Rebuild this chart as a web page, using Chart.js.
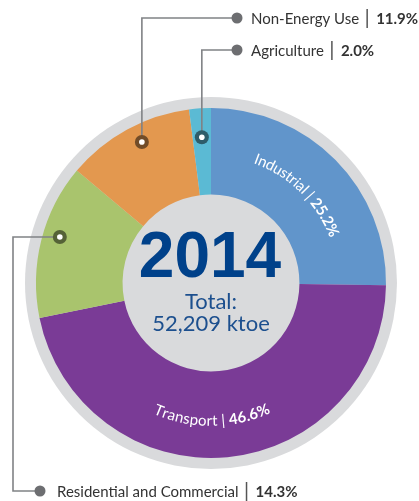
<!DOCTYPE html>
<html>
<head>
<meta charset="utf-8">
<script src="https://cdn.jsdelivr.net/npm/chart.js@4.4.1/dist/chart.umd.min.js"></script>
<style>
  html, body { margin: 0; padding: 0; background: #fff; }
  #wrap { position: relative; width: 419px; height: 501px; }
</style>
</head>
<body>
<div id="wrap"><canvas id="energy"></canvas></div>
<script>
// final energy consumption by sector, 2014
const sectors = ['Industrial', 'Transport', 'Residential and Commercial', 'Non-Energy Use', 'Agriculture'];
const shares = [25.2, 46.6, 14.3, 11.9, 2.0];
const sectorColours = ['#6195cb', '#7a3b96', '#a9c46d', '#e3984f', '#5bbad4'];
const year = '2014';
const totalKtoe = '52,209';

const FONT = 'Lato, "Open Sans", sans-serif';
const RING_GREY = '#d9dadc';
const LINE_GREY = '#808285';

function pct(i) {
    return shares[i].toFixed(1) + '%';
}

// darker shade of a hex colour, used for the callout markers
function shade(hex, f) {
    const n = parseInt(hex.slice(1), 16);
    const r = Math.round(((n >> 16) & 255) * f);
    const g = Math.round(((n >> 8) & 255) * f);
    const b = Math.round((n & 255) * f);
    return `rgb(${r},${g},${b})`;
}

// angle measured clockwise from 12 o'clock (Chart.js uses 3 o'clock)
function midAngle(arc) {
    return (arc.startAngle + arc.endAngle) / 2 + Math.PI / 2;
}

// write text along a circle; inward = letters facing the centre (bottom of ring)
function arcText(ctx, parts, cx, cy, r, mid, inward) {
    const chars = [];
    parts.forEach(p => {
        ctx.font = p.font;
        for (const ch of p.text) chars.push({ ch, font: p.font, w: ctx.measureText(ch).width });
    });
    const total = chars.reduce((s, c) => s + c.w, 0);
    const dir = inward ? -1 : 1;
    let a = mid - dir * total / 2 / r;
    ctx.textAlign = 'center';
    ctx.textBaseline = 'middle';
    chars.forEach(c => {
        const ca = a + dir * c.w / 2 / r;
        ctx.save();
        ctx.translate(cx + r * Math.sin(ca), cy - r * Math.cos(ca));
        ctx.rotate(inward ? ca - Math.PI : ca);
        ctx.font = c.font;
        ctx.fillText(c.ch, 0, 0);
        ctx.restore();
        a += dir * c.w / r;
    });
}

// labels written inside the ring
const ringLabels = [
    { index: 0, radius: 132, inward: false, nudge: -1 },
    { index: 1, radius: 138, inward: true, nudge: 5 }
];

// labels pulled out with elbow lines
const callouts = [
    { index: 3, radius: 157, nudge: 2.5, route: 'up', labelY: 18, dotX: 237, textX: 251 },
    { index: 4, radius: 146, nudge: 0, route: 'up', labelY: 50, dotX: 237, textX: 251 },
    { index: 2, radius: 158, nudge: 2.7, route: 'left', railX: 13, labelY: 491, dotX: 40, textX: 57 }
];

const ringPlugin = {
    id: 'ringDecor',
    beforeDatasetsDraw(chart) {
        const arc = chart.getDatasetMeta(0).data[0];
        const ctx = chart.ctx;
        ctx.save();
        ctx.fillStyle = RING_GREY;
        ctx.beginPath();
        ctx.arc(arc.x, arc.y, arc.outerRadius + 11, 0, Math.PI * 2);
        ctx.fill();
        ctx.restore();
    },
    afterDatasetsDraw(chart) {
        const ctx = chart.ctx;
        const arcs = chart.getDatasetMeta(0).data;
        const cx = arcs[0].x, cy = arcs[0].y;

        // centre text
        ctx.save();
        ctx.textAlign = 'center';
        ctx.textBaseline = 'alphabetic';
        ctx.fillStyle = '#00418a';
        ctx.font = 'bold 64px "Liberation Sans", Arial, sans-serif';
        ctx.fillText(year, cx - 1, cy - 6);
        ctx.fillStyle = '#1c4f8e';
        ctx.font = '22px ' + FONT;
        ctx.fillText('Total:', cx, cy + 26);
        ctx.fillText(totalKtoe + ' ktoe', cx, cy + 48);
        ctx.restore();

        // in-ring labels
        ctx.save();
        ctx.fillStyle = '#ffffff';
        ringLabels.forEach(l => {
            const a = midAngle(arcs[l.index]) + l.nudge * Math.PI / 180;
            arcText(ctx, [
                { text: sectors[l.index] + ' ', font: '15px ' + FONT },
                { text: '| ', font: '15px ' + FONT },
                { text: pct(l.index), font: 'bold 15px ' + FONT }
            ], cx, cy, l.radius, a, l.inward);
        });
        ctx.restore();

        // callouts
        callouts.forEach(c => {
            const a = midAngle(arcs[c.index]) + c.nudge * Math.PI / 180;
            const mx = cx + c.radius * Math.sin(a);
            const my = cy - c.radius * Math.cos(a);

            ctx.save();
            ctx.strokeStyle = LINE_GREY;
            ctx.lineWidth = 1.6;
            ctx.beginPath();
            ctx.moveTo(mx, my);
            if (c.route === 'up') {
                ctx.lineTo(mx, c.labelY);
            } else {
                ctx.lineTo(c.railX, my);
                ctx.lineTo(c.railX, c.labelY);
            }
            ctx.lineTo(c.dotX, c.labelY);
            ctx.stroke();

            ctx.fillStyle = '#6d6e71';
            ctx.beginPath();
            ctx.arc(c.dotX, c.labelY, 5.5, 0, Math.PI * 2);
            ctx.fill();

            ctx.fillStyle = shade(sectorColours[c.index], 0.5);
            ctx.beginPath();
            ctx.arc(mx, my, 7, 0, Math.PI * 2);
            ctx.fill();
            ctx.fillStyle = '#ffffff';
            ctx.beginPath();
            ctx.arc(mx, my, 2.8, 0, Math.PI * 2);
            ctx.fill();

            // label text: name | value
            ctx.textAlign = 'left';
            ctx.textBaseline = 'middle';
            ctx.fillStyle = '#333333';
            ctx.font = '15px ' + FONT;
            const name = sectors[c.index];
            ctx.fillText(name, c.textX, c.labelY + 1);
            const barX = c.textX + ctx.measureText(name).width + 8;
            ctx.strokeStyle = '#555555';
            ctx.lineWidth = 1.5;
            ctx.beginPath();
            ctx.moveTo(barX, c.labelY - 9);
            ctx.lineTo(barX, c.labelY + 10);
            ctx.stroke();
            ctx.font = 'bold 15px ' + FONT;
            ctx.fillText(pct(c.index), barX + 9, c.labelY + 1);
            ctx.restore();
        });
    }
};

new Chart(document.getElementById('energy'), {
    type: 'doughnut',
    data: {
        labels: sectors,
        datasets: [{
            data: shares,
            backgroundColor: sectorColours,
            borderWidth: 0
        }]
    },
    options: {
        responsive: true,
        maintainAspectRatio: false,
        animation: false,
        radius: 175,
        cutout: 94,
        layout: { padding: { left: 25, right: 22, top: 97, bottom: 32 } },
        plugins: {
            legend: { display: false },
            tooltip: { enabled: false }
        }
    },
    plugins: [ringPlugin]
});
</script>
</body>
</html>
